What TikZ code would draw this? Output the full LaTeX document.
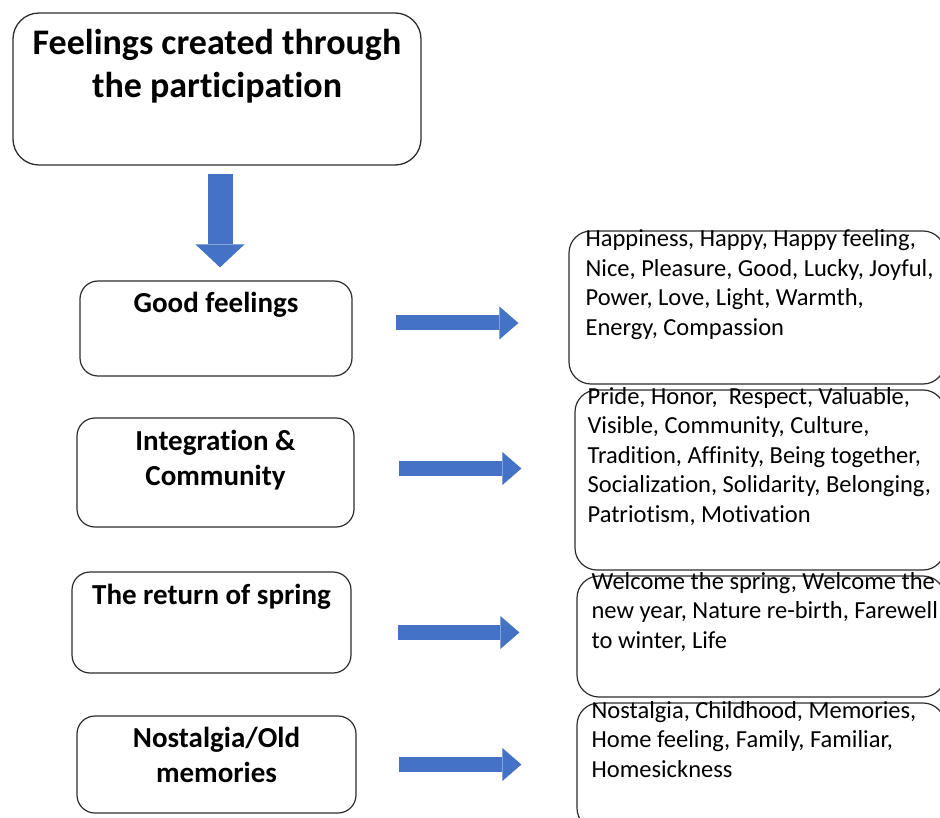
\documentclass[tikz,border=0pt]{standalone}
\usepackage{fontspec}
\setmainfont{Carlito}[Ligatures=NoCommon]
\usetikzlibrary{positioning,arrows.meta}
\definecolor{arrowblue}{RGB}{68,114,196}
\definecolor{edgegray}{RGB}{45,45,45}

\begin{document}
\begin{tikzpicture}[
  x=1pt, y=-1pt,
  titlebox/.style={draw=edgegray,line width=1.3pt,rounded corners=26pt,
    minimum width=408pt,minimum height=152pt},
  catbox/.style={draw=edgegray,line width=1.2pt,rounded corners=18pt},
  listbox/.style={draw=edgegray,line width=1.2pt,rounded corners=22pt},
  titletext/.style={font=\bfseries\fontsize{36}{43}\selectfont,align=center,inner sep=0pt,anchor=base},
  cattext/.style={font=\bfseries\fontsize{29}{35}\selectfont,align=center,inner sep=0pt,anchor=base},
  listtext/.style={font=\fontsize{24.5}{29.5}\selectfont,align=left,inner sep=0pt,anchor=base west},
  downflow/.style={draw=arrowblue,line width=25pt,-{Triangle[length=23pt,width=49pt,line width=0pt]}},
  sideflow/.style={draw=arrowblue,line width=15pt,-{Triangle[length=19pt,width=33pt,line width=0pt]}}
]
  \useasboundingbox (0,0) rectangle (940,818);
  \clip (0,0) rectangle (940,818);

  % left column
  \node[titlebox] (title) at (217,89) {};
  \node[catbox,minimum width=272pt,minimum height=95pt] (good) at (216,328.5) {};
  \node[catbox,minimum width=277pt,minimum height=109pt] (integ) at (215.5,472.5) {};
  \node[catbox,minimum width=279pt,minimum height=101pt] (spring) at (211.5,622.5) {};
  \node[catbox,minimum width=279pt,minimum height=97pt] (nost) at (216.5,764.5) {};

  % texts sit on the baseline of their last line
  \node[titletext] (titletxt) at ([yshift=-85pt]title.north) {Feelings created through\\the participation};
  \node[cattext] (goodtxt) at ([yshift=-32pt]good.north) {Good feelings};
  \node[cattext] (integtxt) at ([yshift=-68pt]integ.north) {Integration \&\\Community};
  \node[cattext] (springtxt) at ([yshift=-33pt]spring.north) {The return of spring};
  \node[cattext] (nosttxt) at ([yshift=-67pt]nost.north) {Nostalgia/Old\\memories};

  % right column
  \node[listbox,minimum width=376pt,minimum height=153pt] (goodlist) at (757,307.5) {};
  \node[listbox,minimum width=370pt,minimum height=180pt] (integlist) at (760,480) {};
  \node[listbox,minimum width=368pt,minimum height=121pt] (springlist) at (761,636.5) {};
  \node[listbox,minimum width=368pt,minimum height=127pt] (nostlist) at (761,766.5) {};

  \node[listtext] (goodwords) at ([xshift=17pt,yshift=-105pt]goodlist.north west)
    {Happiness, Happy, Happy feeling,\\Nice, Pleasure, Good, Lucky, Joyful,\\Power, Love, Light, Warmth,\\Energy, Compassion};
  \node[listtext] (integwords) at ([xshift=13pt,yshift=-133pt]integlist.north west)
    {Pride, Honor, \ Respect, Valuable,\\Visible, Community, Culture,\\Tradition, Affinity, Being together,\\Socialization, Solidarity, Belonging,\\Patriotism, Motivation};
  \node[listtext] (springwords) at ([xshift=15pt,yshift=-73pt]springlist.north west)
    {Welcome the spring, Welcome the\\new year, Nature re-birth, Farewell\\to winter, Life};
  \node[listtext] (nostwords) at ([xshift=15pt,yshift=-75pt]nostlist.north west)
    {Nostalgia, Childhood, Memories,\\Home feeling, Family, Familiar,\\Homesickness};

  % block arrows
  \coordinate (d0) at ([xshift=3pt]title.south);
  \draw[downflow,shorten <=8pt,shorten >=13pt] (d0) -- (d0 |- good.north);

  \coordinate (s1) at ([yshift=5.5pt]good.east);
  \coordinate (s2) at ([yshift=4pt]integ.east);
  \coordinate (s3) at ([yshift=-10pt]spring.east);
  \coordinate (s4) at (nost.east);
  \draw[sideflow,shorten <=43pt,shorten >=50pt] (s1) -- (s1 -| goodlist.west);
  \draw[sideflow,shorten <=44pt,shorten >=53pt] (s2) -- (s2 -| integlist.west);
  \draw[sideflow,shorten <=46.5pt,shorten >=57pt] (s3) -- (s3 -| springlist.west);
  \draw[sideflow,shorten <=42pt,shorten >=55pt] (s4) -- (s4 -| nostlist.west);
\end{tikzpicture}
\end{document}
